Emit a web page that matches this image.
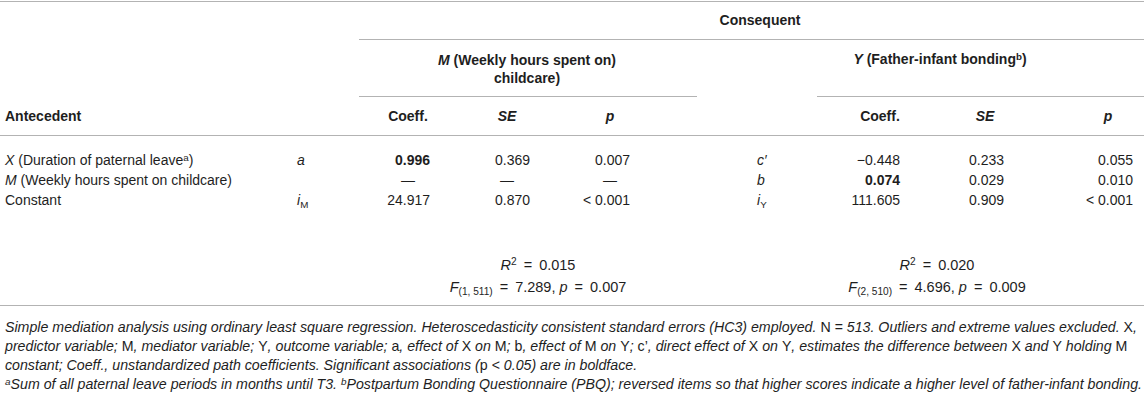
<!DOCTYPE html>
<html><head><meta charset="utf-8">
<script src="https://cdn.jsdelivr.net/npm/chart.js@4.4.1/dist/chart.umd.min.js"></script>
<style>
html,body{margin:0;padding:0;background:#fff;}
#t{position:relative;width:1144px;height:401px;font-family:"Liberation Sans",Arial,Helvetica,sans-serif;color:#1e1e1e;font-size:14px;overflow:hidden;}
.c{position:absolute;white-space:nowrap;line-height:18px;}
.b{font-weight:bold;}
.rule{position:absolute;height:0;border-top:1.6px solid #b3b3b3;}
.note{font-size:14.2px;font-style:italic;}
.note .u{font-style:normal;}
.fit{font-size:14.5px;}
.eq{padding:0 7px;}
sup{font-size:70%;line-height:0;vertical-align:0.45em;}
sub{font-size:70%;line-height:0;vertical-align:-0.3em;}
</style></head><body><div id="t"></div>
<script>
// ---- data ----
const consequentTitle = "Consequent";
const groupTitles = ["<i>M</i> (Weekly hours spent on)<br>childcare)", "<i>Y</i> (Father-infant bonding<sup>b</sup>)"];
const colHeads = ["Coeff.", "<i>SE</i>", "<i>p</i>"];
const antecedents = ["<i>X</i> (Duration of paternal leave<sup>a</sup>)", "<i>M</i> (Weekly hours spent on childcare)", "Constant"];
const pathM = ["<i>a</i>", "", "<i>i</i><sub>M</sub>"];
const coeffM = ["0.996", "—", "24.917"];
const seM = ["0.369", "—", "0.870"];
const pM = ["0.007", "—", "< 0.001"];
const pathY = ["<i>c′</i>", "<i>b</i>", "<i>i</i><sub>Y</sub>"];
const coeffY = ["−0.448", "0.074", "111.605"];
const seY = ["0.233", "0.029", "0.909"];
const pY = ["0.055", "0.010", "< 0.001"];
const boldM = [true, false, false];
const boldY = [false, true, false];
const r2 = ["0.015", "0.020"];
const fDf = ["1, 511", "2, 510"];
const fVal = ["7.289", "4.696"];
const fP = ["0.007", "0.009"];
const notes = [
 'Simple mediation analysis using ordinary least square regression. Heteroscedasticity consistent standard errors (HC3) employed. <span class="u">N</span> = 513. Outliers and extreme values excluded. <span class="u">X</span>,',
 'predictor variable; <span class="u">M</span>, mediator variable; <span class="u">Y</span>, outcome variable; <span class="u">a</span>, effect of <span class="u">X</span> on <span class="u">M</span>; <span class="u">b</span>, effect of <span class="u">M</span> on <span class="u">Y</span>; <span class="u">c’</span>, direct effect of <span class="u">X</span> on <span class="u">Y</span>, estimates the difference between <span class="u">X</span> and <span class="u">Y</span> holding <span class="u">M</span>',
 'constant; Coeff., unstandardized path coefficients. Significant associations (<span class="u">p</span> &lt; 0.05) are in boldface.',
 '<sup>a</sup>Sum of all paternal leave periods in months until T3. <sup>b</sup>Postpartum Bonding Questionnaire (PBQ); reversed items so that higher scores indicate a higher level of father-infant bonding.'
];

// ---- layout ----
const T = document.getElementById('t');
function put(html, x, y, align, cls){
  const d = document.createElement('div');
  d.className = 'c' + (cls ? ' ' + cls : '');
  d.innerHTML = html;
  const tx = align === 'c' ? '-50%' : (align === 'r' ? '-100%' : '0');
  d.style.left = x + 'px'; d.style.top = y + 'px';
  d.style.transform = 'translate(' + tx + ',-50%)';
  T.appendChild(d); return d;
}
function rule(x0, x1, y){
  const d = document.createElement('div'); d.className = 'rule';
  d.style.left = x0 + 'px'; d.style.width = (x1 - x0) + 'px'; d.style.top = y + 'px';
  T.appendChild(d);
}
const groups = [
  {x0: 359, x1: 697, title: 527, fit: 538, head: [408, 507, 610], right: [430, 530, 630], path: 297,
   coeff: coeffM, se: seM, p: pM, bold: boldM, paths: pathM},
  {x0: 817, x1: 1144, title: 940, fit: 937, head: [880, 985, 1108], right: [900, 1004, 1133], path: 757,
   coeff: coeffY, se: seY, p: pY, bold: boldY, paths: pathY}
];
const rowY = [160, 180, 200];

rule(0, 1144, 1);
put(consequentTitle, 760, 20, 'c', 'b');
rule(359, 1144, 39);
groups.forEach((g, gi) => {
  put(groupTitles[gi], g.title, gi === 0 ? 69 : 59, 'c', 'b').style.textAlign = 'center';
  rule(g.x0, g.x1, 96);
  colHeads.forEach((h, i) => put(h, g.head[i], 116, 'c', 'b'));
  rowY.forEach((y, r) => {
    put(g.paths[r], g.path, y, 'l');
    const cols = [g.coeff, g.se, g.p];
    cols.forEach((col, i) => {
      const v = col[r];
      if (v === '—') put(v, g.head[i], y, 'c');
      else put(v, g.right[i], y, 'r', (i === 0 && g.bold[r]) ? 'b' : '');
    });
  });
  put('<i>R</i><sup>2</sup><span class="eq">=</span>' + r2[gi], g.fit, 265, 'c', 'fit');
  put('<i>F</i><sub>(' + fDf[gi] + ')</sub><span class="eq">=</span>' + fVal[gi] + ', <i>p</i><span class="eq">=</span>' + fP[gi], g.fit, 287, 'c', 'fit');
});
put('<b>Antecedent</b>', 5, 116, 'l');
rule(0, 1144, 135);
rowY.forEach((y, r) => put(antecedents[r], 5, y, 'l'));
rule(0, 1144, 305);
notes.forEach((n, i) => put(n, 5, 327 + i * 19, 'l', 'note'));
</script></body></html>
